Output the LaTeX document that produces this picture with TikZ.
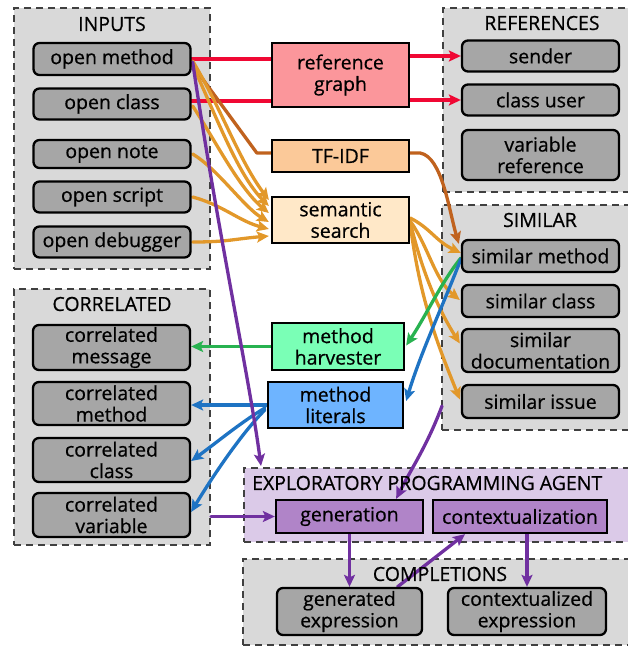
\documentclass[tikz,border=0pt]{standalone}
\usepackage{fontspec}
\setmainfont{Open Sans}[FakeBold=0.6]
\usetikzlibrary{arrows.meta,calc}

\definecolor{grpfill}{RGB}{217,217,217}
\definecolor{grpline}{RGB}{64,64,64}
\definecolor{itemfill}{RGB}{166,166,166}
\definecolor{agentfill}{RGB}{219,202,232}
\definecolor{rgfill}{RGB}{251,150,155}
\definecolor{tffill}{RGB}{251,201,153}
\definecolor{ssfill}{RGB}{255,232,200}
\definecolor{mhfill}{RGB}{122,255,182}
\definecolor{mlfill}{RGB}{110,180,255}
\definecolor{genfill}{RGB}{176,132,200}
\definecolor{cred}{RGB}{240,8,52}
\definecolor{cbrown}{RGB}{192,98,30}
\definecolor{corange}{RGB}{226,152,42}
\definecolor{cgreen}{RGB}{40,178,80}
\definecolor{cblue}{RGB}{30,115,195}
\definecolor{cpurple}{RGB}{112,48,160}

\newcommand{\lblfont}{\fontsize{19.5pt}{21.5pt}\selectfont}

\pgfdeclarelayer{groups}
\pgfdeclarelayer{links}
\pgfsetlayers{groups,links,main}

\begin{document}
\begin{tikzpicture}[x=1pt,y=-1pt,
  grp/.style={draw=grpline, fill=grpfill, line width=2pt,
    dash pattern=on 7pt off 5pt, inner sep=0pt},
  grptitle/.style={font=\lblfont, inner sep=0pt},
  item/.style={draw=black, fill=itemfill, line width=2.3pt, rounded corners=6pt,
    minimum width=157pt, inner sep=0pt, align=center, font=\lblfont},
  proc/.style={draw=black, line width=2.3pt, inner sep=0pt,
    align=center, font=\lblfont},
  link/.style={line width=3.3pt, line cap=round, line join=round},
  tip/.style={-{Stealth[length=12pt,width=11pt,inset=2.5pt]}},
  lred/.style={link, draw=cred},
  lbrown/.style={link, draw=cbrown},
  lorange/.style={link, draw=corange},
  lgreen/.style={link, draw=cgreen},
  lblue/.style={link, draw=cblue},
  lpurple/.style={link, draw=cpurple},
]
\useasboundingbox (0,0) rectangle (627,648);

% ---------- group frames ----------
\begin{pgfonlayer}{groups}
\node[grp, minimum width=196pt, minimum height=261pt] (inputs) at (112,138.5) {};
\node[grp, minimum width=197pt, minimum height=184pt] (refs) at (541.5,100) {};
\node[grp, minimum width=198pt, minimum height=225pt] (simgrp) at (541,317.5) {};
\node[grp, minimum width=196pt, minimum height=256pt] (corr) at (112,417) {};
\node[grp, fill=agentfill, minimum width=396pt, minimum height=74pt] (agent) at (442,505) {};
\node[grp, minimum width=397pt, minimum height=86pt] (compl) at (441.5,602) {};
\end{pgfonlayer}

\node[grptitle] (tinputs) at (112,24) {INPUTS};
\node[grptitle] (trefs) at (542,23) {REFERENCES};
\node[grptitle] (tsim) at (540,220) {SIMILAR};
\node[grptitle] (tcorr) at (112,304) {CORRELATED};
\node[grptitle, anchor=west] (tagent) at (252,483) {EXPLORATORY PROGRAMMING AGENT};
\node[grptitle] (tcompl) at (440,574) {COMPLETIONS};

% ---------- inputs ----------
\node[item, minimum height=32pt] (om) at (112,59) {open method};
\node[item, minimum height=31pt] (oc) at (112,104) {open class};
\node[item, minimum height=28pt] (on) at (112,154) {open note};
\node[item, minimum height=31pt] (os) at (112,197) {open script};
\node[item, minimum height=31pt] (od) at (112,242) {open debugger};

% ---------- references ----------
\node[item, minimum height=31pt] (snd) at (540.5,56) {sender};
\node[item, minimum height=31pt] (cu) at (540.5,100) {class user};
\node[item, minimum height=50pt] (vr) at (540.5,155) {variable\\reference};

% ---------- similar ----------
\node[item, minimum height=32pt] (sm) at (540.5,256) {similar method};
\node[item, minimum height=32pt] (sc) at (540.5,301) {similar class};
\node[item, minimum height=43pt] (sd) at (540.5,350.5) {similar\\documentation};
\node[item, minimum height=33pt] (si) at (540.5,401.5) {similar issue};

% ---------- correlated ----------
\node[item, minimum height=45pt] (cmsg) at (111.5,347.5) {correlated\\message};
\node[item, minimum height=43pt] (cmeth) at (111.5,403.5) {correlated\\method};
\node[item, minimum height=44pt] (ccls) at (111.5,460) {correlated\\class};
\node[item, minimum height=44pt] (cvar) at (111.5,515) {correlated\\variable};

% ---------- completions ----------
\node[item, minimum width=145pt, minimum height=47pt] (genx) at (349.5,611.5) {generated\\expression};
\node[item, minimum width=158pt, minimum height=47pt] (ctxx) at (527,611.5) {contextualized\\expression};

% ---------- processing steps ----------
\node[proc, fill=rgfill, minimum width=137pt, minimum height=64pt] (rg) at (340.5,75) {reference\\graph};
\node[proc, fill=tffill, minimum width=137pt, minimum height=32pt] (tf) at (340.5,156) {TF-IDF};
\node[proc, fill=ssfill, minimum width=137pt, minimum height=46pt] (ss) at (340.5,220) {semantic\\search};
\node[proc, fill=mhfill, minimum width=132pt, minimum height=47pt] (mh) at (338,346.5) {method\\harvester};
\node[proc, fill=mlfill, minimum width=135pt, minimum height=46pt] (ml) at (335.5,405) {method\\literals};
\node[proc, fill=genfill, minimum width=147pt, minimum height=33pt] (gen) at (349.5,516.5) {generation};
\node[proc, fill=genfill, minimum width=174pt, minimum height=33pt] (ctx) at (520,516.5) {contextualization};

% ---------- connectors ----------
\begin{pgfonlayer}{links}
% reference graph
\draw[lred] (om.east) -- (om.east -| rg.west);
\draw[lred] ($(oc.east)+(0,-3)$) -- ($(oc.east -| rg.west)+(0,-3)$);
\draw[lred, tip] (rg.east |- snd.west) -- (snd.west);
\draw[lred, tip] (rg.east |- cu.west) -- (cu.west);

% TF-IDF
\draw[lbrown] ($(om.east)+(0,5)$) -- ($(tf.west)+(-14,-3)$) -- ($(tf.west)+(0,-3)$);
\draw[lbrown, tip] ($(tf.east)+(0,-3)$) -- ++(10,0)
  .. controls +(22,4) and +(-10,-34) .. ($(sm.north west)+(-2,5)$);

% semantic search inputs
\draw[lorange, tip] ($(om.east)+(1,2)$) .. controls +(30,50) and +(-30,-40) .. ($(ss.west)+(-2,-20)$);
\draw[lorange, tip] ($(om.east)+(1,6)$) .. controls +(25,55) and +(-30,-30) .. ($(ss.west)+(-2,-14)$);
\draw[lorange, tip] ($(oc.east)+(1,2)$) .. controls +(20,30) and +(-30,-25) .. ($(ss.west)+(-2,-7)$);
\draw[lorange, tip] ($(on.east)+(1,0)$) .. controls +(25,15) and +(-25,-15) .. ($(ss.west)+(-2,2)$);
\draw[lorange, tip] ($(os.east)+(1,0)$) .. controls +(30,8) and +(-30,-8) .. ($(ss.west)+(-2,9)$);
\draw[lorange, tip] ($(od.east)+(1,0)$) .. controls +(35,0) and +(-35,3) .. ($(ss.west)+(-2,16)$);

% semantic search outputs
\draw[lorange, tip] ($(ss.east)+(0,-2)$) .. controls +(20,10) and +(-25,-12) .. ($(sm.west)+(0,-3)$);
\draw[lorange, tip] ($(ss.east)+(0,1)$) .. controls +(18,25) and +(-25,-20) .. ($(sc.west)+(-1,-1)$);
\draw[lorange, tip] ($(ss.east)+(0,2)$) .. controls +(12,50) and +(-22,-35) .. ($(sd.west)+(-1,-7)$);
\draw[lorange, tip] ($(ss.east)+(0,3)$) .. controls +(10,80) and +(-20,-50) .. ($(si.west)+(-1,-2)$);

% similar method to harvesters
\draw[lgreen, tip] ($(sm.west)+(0,2)$) .. controls +(-20,25) and +(20,-30) .. ($(mh.east)+(1,-1)$);
\draw[lblue, tip] ($(sm.west)+(0,3)$) .. controls +(-15,40) and +(15,-50) .. ($(ml.east)+(2,-4)$);

% harvesters to correlated
\draw[lgreen, tip] (mh.west) -- (mh.west -| cmsg.east);
\draw[lblue, tip] (ml.west) -- (ml.west -| cmeth.east);
\draw[lblue, tip] ($(ml.west)+(-2,3)$) .. controls +(-25,15) and +(25,-18) .. ($(ccls.east)+(0,1)$);
\draw[lblue, tip] ($(ml.west)+(-2,5)$) .. controls +(-25,25) and +(18,-30) .. ($(cvar.east)+(0,-3)$);

% exploratory programming agent
\draw[lpurple, tip] ($(om.east)+(1,3)$) .. controls +(25,170) and +(-12,-90) .. ($(agent.north west)+(18,-1)$);
\draw[lpurple, tip] (corr.east |- gen.west) -- (gen.west);
\draw[lpurple, tip] ($(simgrp.south west)+(1,-25)$) .. controls +(-15,40) and +(15,-30) .. ($(gen.north east)+(-28,0)$);
\draw[lpurple, tip] (gen.south) -- (gen.south |- genx.north);
\draw[lpurple, tip] ($(genx.north)+(48,0)$) -- ($(ctx.south)+(-55,0)$);
\draw[lpurple, tip] (ctxx.north |- ctx.south) -- (ctxx.north);
\end{pgfonlayer}
\end{tikzpicture}
\end{document}
